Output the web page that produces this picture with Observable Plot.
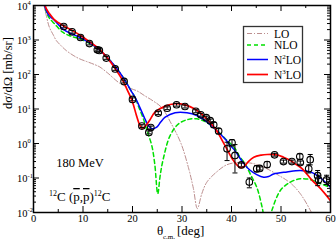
<!DOCTYPE html>
<html><head><meta charset="utf-8">
<script src="https://cdn.jsdelivr.net/npm/d3@7"></script>
<script src="https://cdn.jsdelivr.net/npm/@observablehq/plot@0.6"></script>
<style>
body{margin:0;background:#fff;}
#wrap{position:relative;width:336px;height:242px;}
#ov{position:absolute;left:0;top:0;pointer-events:none;}
svg, svg text { font-family: "Liberation Serif", "Tinos", "Times New Roman", serif !important; }
</style>
</head><body>
<div id="wrap"></div>
<script>
// ---- data ----
const xMajorTicks = [0, 10, 20, 30, 40, 50, 60];
const xMinorTicks = [5, 15, 25, 35, 45, 55];
const yMajorTicks = [1e-2, 1e-1, 1e0, 1e1, 1e2, 1e3, 1e4];
const yExponents = ["-2", "-1", "0", "1", "2", "3", "4"];

const seriesNames = ["LO", "NLO", "N\u00b2LO", "N\u00b3LO"];
const seriesColors = ["#bc8f8f", "#00e000", "#0000ff", "#ff0000"];

const loAngle = [2.0, 2.6, 3.2, 4.0, 4.6, 5.5, 6.6, 8.0, 9.3, 11.0, 12.5, 13.4, 15.0, 17.4, 19.5, 21.0, 22.5, 24.2, 25.9, 27.9, 29.8, 31.3, 32.3, 33.1, 34.0, 35.0, 37.0, 39.0, 41.0, 43.0, 44.5, 46.0, 47.8, 49.5, 51.2, 52.5, 53.9, 55.0, 56.0, 57.0];
const loValue = [12000, 5000, 2350, 1400, 968, 700, 497, 360, 285, 230, 190, 165, 110, 56, 40, 33, 24, 17, 11, 3.6, 1.0, 0.2, 0.05, 0.013, 0.035, 0.075, 0.15, 0.24, 0.28, 0.28, 0.26, 0.22, 0.166, 0.12, 0.085, 0.06, 0.035, 0.02, 0.011, 0.006];

const nloAngle = [2.0, 2.6, 3.2, 4.26, 5.9, 7.5, 9.3, 11.0, 12.7, 14.5, 16.5, 18.3, 19.8, 20.5, 21.3, 22.2, 23.0, 23.9, 24.5, 25.1, 25.6, 26.2, 27.6, 29.3, 31.3, 33.0, 34.7, 36.7, 38.7, 40.7, 41.5, 42.8, 43.8, 45.1, 46.2, 47.1, 48.2, 49.9, 51.9, 53.9, 56.0, 58.0, 60.0];
const nloValue = [13000, 6500, 4300, 2950, 1680, 1300, 1080, 840, 615, 360, 170, 75, 32, 22, 11, 5.2, 2.2, 0.87, 0.25, 0.035, 0.12, 0.35, 1.7, 3.7, 5.0, 5.2, 4.3, 2.7, 1.4, 0.72, 0.45, 0.25, 0.13, 0.054, 0.014, 0.003, 0.012, 0.044, 0.076, 0.095, 0.089, 0.068, 0.054];

const n2loAngle = [2.0, 2.6, 3.2, 4.26, 5.9, 7.5, 9.3, 11.0, 12.7, 14.5, 16.5, 18.3, 19.8, 20.5, 21.5, 22.5, 23.2, 23.9, 24.9, 25.7, 26.6, 28.6, 31.0, 33.0, 34.7, 36.3, 38.7, 39.7, 40.7, 42.4, 43.7, 45.1, 46.5, 47.5, 48.5, 51.2, 53.9, 56.0, 58.0, 60.0];
const n2loValue = [13000, 7000, 5000, 3670, 2110, 1550, 1200, 880, 615, 360, 170, 75, 32, 22, 11, 5.2, 3.3, 2.7, 3.0, 4.2, 5.8, 7.8, 7.8, 6.5, 4.6, 2.95, 1.35, 0.9, 0.62, 0.27, 0.17, 0.125, 0.105, 0.11, 0.13, 0.15, 0.165, 0.15, 0.1, 0.054];

const n3loAngle = [2.0, 2.6, 3.24, 4.2, 5.94, 7.8, 9.33, 11.3, 13.2, 14.7, 16.5, 18.1, 19.1, 20.0, 20.8, 21.4, 21.9, 22.5, 23.5, 24.5, 26.6, 28.6, 30.6, 32.6, 34.7, 36.7, 38.7, 40.4, 41.8, 42.6, 43.4, 44.5, 46.0, 47.2, 49.2, 50.5, 51.9, 53.0, 54.3, 56.3, 58.0, 60.0];
const n3loValue = [15000, 8000, 5750, 3900, 2630, 1900, 1400, 900, 560, 330, 150, 64, 32, 16, 6.5, 3.6, 2.8, 3.1, 4.8, 8.0, 12.1, 14.2, 13.2, 10, 5.75, 2.7, 0.87, 0.32, 0.2, 0.22, 0.3, 0.40, 0.46, 0.48, 0.47, 0.4, 0.32, 0.25, 0.185, 0.085, 0.049, 0.022];

const obsAngle = [6.1, 7.8, 9.5, 11.3, 12.9, 13.3, 14.7, 16.5, 18.3, 20.0, 21.9, 23.3, 23.7, 25.2, 27.0, 28.9, 30.6, 32.8, 33.8, 34.9, 35.7, 36.4, 37.4, 39.1, 40.1, 40.7, 42.0, 43.6, 45.1, 45.7, 47.2, 48.7, 50.5, 52.2, 53.8, 53.9, 55.6, 55.9, 57.4, 57.6, 59.2];
const obsValue = [2460, 1730, 1180, 790, 520, 500, 300, 145, 63, 19, 3.2, 2.1, 2.9, 7.6, 10.5, 13.3, 11.8, 8.6, 6.8, 5.6, 4.6, 3.5, 2.3, 0.70, 1.05, 0.45, 0.24, 0.076, 0.185, 0.19, 0.245, 0.47, 0.30, 0.30, 0.42, 0.28, 0.185, 0.34, 0.117, 0.089, 0.089];
const obsLow  = [2250, 1580, 1080, 720, 475, 455, 275, 132, 57, 17.3, 2.9, 1.9, 2.6, 6.9, 9.6, 12.1, 10.7, 7.8, 6.2, 5.1, 4.2, 2.9, 1.9, 0.32, 0.85, 0.14, 0.21, 0.052, 0.15, 0.17, 0.20, 0.43, 0.27, 0.27, 0.35, 0.25, 0.14, 0.24, 0.06, 0.07, 0.065];
const obsHigh = [2700, 1900, 1300, 870, 570, 550, 330, 160, 69, 21, 3.5, 2.3, 3.2, 8.4, 11.5, 14.6, 13.0, 9.5, 7.5, 6.2, 5.1, 4.1, 2.7, 1.09, 1.3, 0.93, 0.27, 0.10, 0.23, 0.21, 0.30, 0.52, 0.33, 0.33, 0.50, 0.31, 0.24, 0.48, 0.165, 0.12, 0.12];

// ---- build tables ----
const zip = (a, v) => a.map((x, i) => ({x, y: v[i]}));
const curves = [zip(loAngle, loValue), zip(nloAngle, nloValue), zip(n2loAngle, n2loValue), zip(n3loAngle, n3loValue)];
const obs = obsAngle.map((x, i) => ({x, y: obsValue[i], lo: obsLow[i], hi: obsHigh[i]}));

const W = 336, H = 242, mL = 33, mR = 6, mT = 5, mB = 30;
const pw = W - mL - mR, ph = H - mT - mB;
const serif = '"Liberation Serif", "Tinos", "Times New Roman", serif';
const majorLen = 6, minorLen = 3;

const yMinorTicks = [];
for (let k = -2; k < 4; k++) for (let m = 2; m <= 9; m++) yMinorTicks.push(m * Math.pow(10, k));

const capSymbol = {draw(ctx, size) { const r = 2.5; ctx.moveTo(-r, 0); ctx.lineTo(r, 0); }};

const styles = [
  {strokeWidth: 1, strokeDasharray: "5,2,1,2"},
  {strokeWidth: 1.5, strokeDasharray: "4,3"},
  {strokeWidth: 1.5},
  {strokeWidth: 1.7}
];

const marks = [];
curves.forEach((c, i) => marks.push(Plot.line(c, {x: "x", y: "y", stroke: seriesColors[i], ...styles[i], curve: "catmull-rom", clip: true})));
marks.push(
  Plot.ruleX(obs, {x: "x", y1: "lo", y2: "hi", stroke: "black", strokeWidth: 1, clip: true}),
  Plot.dot(obs, {x: "x", y: "lo", symbol: capSymbol, stroke: "black", strokeWidth: 1}),
  Plot.dot(obs, {x: "x", y: "hi", symbol: capSymbol, stroke: "black", strokeWidth: 1}),
  Plot.dot(obs, {x: "x", y: "y", r: 3.3, stroke: "black", strokeWidth: 1.1, fill: "none"}),
  // inward ticks (bottom/top, left/right)
  Plot.tickX(xMajorTicks, {x: d => d, insetTop: ph - majorLen, stroke: "black"}),
  Plot.tickX(xMajorTicks, {x: d => d, insetBottom: ph - majorLen, stroke: "black"}),
  Plot.tickX(xMinorTicks, {x: d => d, insetTop: ph - minorLen, stroke: "black"}),
  Plot.tickX(xMinorTicks, {x: d => d, insetBottom: ph - minorLen, stroke: "black"}),
  Plot.tickY(yMajorTicks, {y: d => d, insetRight: pw - majorLen, stroke: "black"}),
  Plot.tickY(yMajorTicks, {y: d => d, insetLeft: pw - majorLen, stroke: "black"}),
  Plot.tickY(yMinorTicks, {y: d => d, insetRight: pw - minorLen, stroke: "black"}),
  Plot.tickY(yMinorTicks, {y: d => d, insetLeft: pw - minorLen, stroke: "black"}),
  Plot.frame({stroke: "black", strokeWidth: 1.5}),
  // tick labels
  Plot.text(xMajorTicks, {x: d => d, frameAnchor: "bottom", text: d => String(d), dy: 9, fontSize: 10.5, fill: "black"}),
  Plot.text(yMajorTicks, {y: d => d, frameAnchor: "left", text: () => "10", textAnchor: "end", dx: -6, dy: 1, fontSize: 10.5, fill: "black"}),
  Plot.text(yMajorTicks, {y: d => d, frameAnchor: "left", text: (d, i) => yExponents[i], textAnchor: "start", dx: -6, dy: -2.5, fontSize: 6.5, fill: "black"}),
  // axis titles
  Plot.text(["d\u03c3/d\u03a9 [mb/sr]"], {frameAnchor: "left", text: d => d, rotate: -90, dx: -26, fontSize: 12.5, fill: "black"}),
  Plot.text(["\u03b8"], {frameAnchor: "bottom", text: d => d, dx: -22, dy: 22, fontSize: 13, fill: "black"}),
  Plot.text(["c.m."], {frameAnchor: "bottom", text: d => d, textAnchor: "start", dx: -19, dy: 26, fontSize: 7, fill: "black"}),
  Plot.text(["[deg]"], {frameAnchor: "bottom", text: d => d, textAnchor: "start", dx: -5, dy: 22, fontSize: 13, fill: "black"})
);

const chart = Plot.plot({
  width: W, height: H,
  marginLeft: mL, marginRight: mR, marginTop: mT, marginBottom: mB,
  x: {domain: [0, 60], axis: null},
  y: {type: "log", domain: [1e-2, 1e4], axis: null},
  style: {fontFamily: serif, background: "white", color: "black"},
  marks
});
const wrap = document.getElementById("wrap");
wrap.appendChild(chart);

// ---- legend and annotations overlay ----
const ov = d3.select(wrap).append("svg").attr("id", "ov").attr("width", W).attr("height", H);
ov.append("rect").attr("x", 243.5).attr("y", 26.5).attr("width", 59).attr("height", 56)
  .attr("fill", "white").attr("stroke", "#333").attr("stroke-width", 1.3);
const legY = [33.5, 45, 59.5, 74.5];
seriesNames.forEach((name, i) => {
  ov.append("line").attr("x1", 247).attr("x2", 268).attr("y1", legY[i]).attr("y2", legY[i])
    .attr("stroke", seriesColors[i]).attr("stroke-width", styles[i].strokeWidth)
    .attr("stroke-dasharray", styles[i].strokeDasharray || null);
  const t = ov.append("text").attr("x", 274).attr("y", legY[i] + 4).attr("font-size", 11.5).attr("fill", "black");
  if (name.length === 4) {
    t.append("tspan").text("N");
    t.append("tspan").attr("font-size", 7).attr("dy", -4.5).text(name[1] === "\u00b2" ? "2" : "3");
    t.append("tspan").attr("dy", 4.5).text("LO");
  } else t.text(name);
});
ov.append("text").attr("x", 80).attr("y", 167).attr("text-anchor", "middle").attr("font-size", 12.5).attr("fill", "black").text("180 MeV");
const r = ov.append("text").attr("x", 49).attr("y", 201).attr("font-size", 13).attr("fill", "black");
r.append("tspan").attr("font-size", 8).attr("dy", -5).text("12");
r.append("tspan").attr("dy", 5).text("C (");
r.append("tspan").attr("text-decoration", "overline").text("p");
r.append("tspan").text(",");
r.append("tspan").attr("text-decoration", "overline").text("p");
r.append("tspan").text(")");
r.append("tspan").attr("font-size", 8).attr("dy", -5).text("12");
r.append("tspan").attr("dy", 5).text("C");
</script>
</body></html>
